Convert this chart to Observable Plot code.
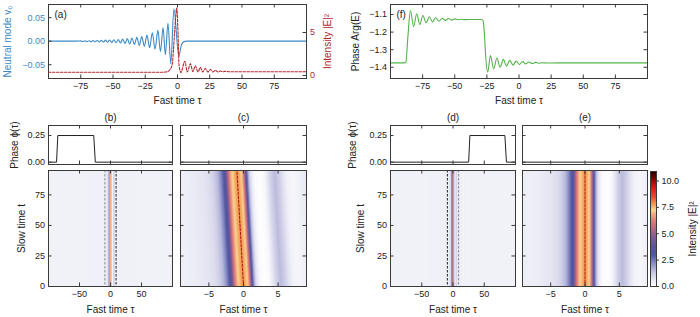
<!DOCTYPE html>
<html><head><meta charset="utf-8">
<script src="https://cdn.jsdelivr.net/npm/d3@7"></script>
<script src="https://cdn.jsdelivr.net/npm/@observablehq/plot@0.6"></script>
<style>
body{margin:0;background:#fff;}
#fig{position:relative;width:700px;height:317px;overflow:hidden;background:#fff;}
</style></head><body><div id="fig"></div>
<script>
// ---------- data ----------
// (a) neutral mode v0 (extrema) vs fast time
const neutralTau = [-100,-78,-75.0,-73.4,-71.8,-70.2,-68.6,-67.0,-65.4,-63.8,-62.2,-60.6,-59.0,-57.4,-55.8,-54.2,-52.6,-51.0,-49.3,-47.6,-45.9,-44.2,-42.5,-40.7,-38.9,-37.1,-35.3,-33.4,-31.5,-29.6,-27.7,-25.7,-23.7,-21.6,-19.5,-17.4,-15.2,-13.2,-11.2,-9.4,-7.4,-5.2,-2.8,1.0,3.0,5.0,7.0,100];
const neutralV = [0,0,0.0006,-0.0007,0.0008,-0.0009,0.001,-0.0011,0.0012,-0.0013,0.0014,-0.0016,0.0018,-0.002,0.0022,-0.0024,0.0026,-0.0028,0.003,-0.0034,0.0037,-0.004,0.0045,-0.005,0.0055,-0.006,0.0065,-0.007,0.008,-0.009,0.010,-0.011,0.013,-0.014,0.018,-0.017,0.023,-0.022,0.029,-0.029,0.038,-0.048,0.069,-0.032,-0.008,-0.001,0,0];
// (a) intensity |E|^2
const intensityTau = [-100,-12,-8,-5.5,-4,-2.3,-0.6,0.4,1.1,2.0,2.6,5.7,7.6,10.0,11.9,13.9,15.8,17.7,19.6,21.6,23.6,25.5,27.4,29.3,31.3,33.2,35.2,37.0,40,100];
const intensityA = [0.38,0.38,0.45,0.75,1.4,4.9,7.85,4.9,1.4,0.55,0.35,1.66,0.42,1.36,0.45,1.14,0.42,0.93,0.42,0.82,0.42,0.7,0.42,0.6,0.42,0.52,0.43,0.48,0.44,0.44];
// (f) phase Arg(E)
const argTau = [-100,-89,-88,-86.5,-84.5,-82,-79.6,-77.2,-74.8,-72.3,-69.8,-67.3,-64.8,-62.3,-59.8,-57.3,-54.8,-52.3,-49.8,-47.3,-44.8,-42,-38,-29,-28,-27,-26,-24.4,-22.2,-19.7,-17.2,-14.7,-12.2,-9.7,-7.2,-4.7,-2.2,0.3,2.8,5.3,7.8,10.3,12.8,15.3,18,22,30,100];
const argE = [-1.375,-1.375,-1.37,-1.23,-1.077,-1.168,-1.096,-1.157,-1.106,-1.147,-1.113,-1.142,-1.118,-1.138,-1.121,-1.134,-1.123,-1.132,-1.125,-1.130,-1.127,-1.129,-1.128,-1.128,-1.135,-1.2,-1.33,-1.428,-1.334,-1.409,-1.347,-1.400,-1.355,-1.393,-1.361,-1.388,-1.365,-1.384,-1.368,-1.381,-1.370,-1.379,-1.372,-1.377,-1.374,-1.376,-1.375,-1.375];
// (b),(d) phase phi(tau)
const phiTauB = [-100,-87,-85,-27,-24.5,100];
const phiB = [0,0,0.25,0.25,0,0];
const phiTauD = [-100,25,27,83,85.5,100];
const phiD = [0,0,0.25,0.25,0,0];
// intensity profile across fast time, relative to pulse centre
const profileTau = [-100,-40,-15,-9,-7,-5,-4,-3.5,-2.8,-2.1,-1.6,-1.25,-0.86,-0.4,0,0.35,0.72,1.05,1.25,1.45,1.65,2.0,2.5,3.2,3.8,4.2,4.8,5.4,6.0,6.6,7.2,8,9,10,12,14,16,18,20,22,24,26,28,30,32,34,36,38,40,42,45,50,100];
const profileI = [0.38,0.38,0.4,0.42,0.48,0.65,0.85,1.1,1.6,2.7,4.2,6.0,7.0,7.6,7.85,7.6,7.0,5.5,3.8,2.5,1.5,0.6,0.12,0.03,0.15,0.5,1.1,1.5,1.2,0.7,0.35,0.25,0.4,0.6,0.2,0.58,0.22,0.55,0.25,0.52,0.27,0.5,0.3,0.47,0.31,0.45,0.33,0.43,0.35,0.41,0.37,0.38,0.38];
// slow-time rows and pulse centre
const slowRowsStill = [0, 95];
const centresStill = [0, 0];
const slowRowsC = [0, 19, 38, 57, 76, 95];
const centresC = [0, -0.19, -0.38, -0.57, -0.76, -0.95];
const zoomEdges = [-9, 9];
// ticks
const xTicksWide = [-75,-50,-25,0,25,50,75];
const xTicksHeat = [-50,0,50];
const xTicksZoom = [-5,0,5];
const vTicks = [-0.05,0,0.05];
const iTicks = [0,5];
const argTicks = [-1.4,-1.3,-1.2,-1.1];
const phiTicks = [0,0.25];
const slowTicks = [0,25,50,75];
const slowTicksRight = [25,50,75];
const cbarTicks = [0,2.5,5,7.5,10];
// colour map stops
const cmapValues = [0,0.5,1.3,2.2,3.0,3.8,4.6,5.4,6.2,6.8,7.25,7.8,8.5,9.3,10.0,10.9];
const cmapColors = ["#ffffff","#ececf6","#c8c8e4","#8a8ec6","#4f56a0","#5a559c","#7c5a96","#b06684","#e07a78","#f2a582","#f8d592","#f39a50","#ec4a22","#e01c1c","#a00808","#200000"];

// ---------- tables ----------
const neutral = neutralTau.map((t,i)=>({tau:t, v:neutralV[i]}));
const intensity = intensityTau.map((t,i)=>({tau:t, I:intensityA[i]}));
const arg = argTau.map((t,i)=>({tau:t, a:argE[i]}));
const phaseB = phiTauB.map((t,i)=>({tau:t, p:phiB[i]}));
const phaseD = phiTauD.map((t,i)=>({tau:t, p:phiD[i]}));
const heatRows = (rows, centres, lim) => rows.flatMap((t,j)=>profileTau.map((d,i)=>({tau:d+centres[j], t, I:profileI[i]}))).filter(d=>Math.abs(d.tau)<=lim);
const heatStill = heatRows(slowRowsStill, centresStill, 100);
const heatStillZoom = heatRows(slowRowsStill, centresStill, 16);
const heatC = heatRows(slowRowsC, centresC, 16);
const pathStill = slowRowsStill.map((t,j)=>({t, tau:centresStill[j]}));
const pathC = slowRowsC.map((t,j)=>({t, tau:centresC[j]}));

// ---------- styling ----------
const FONT = '"Liberation Sans", Arial, Helvetica, sans-serif';
const BLUE = "#3a8ac6", RED = "#b2282e", GREEN = "#52b448", AX = "#3a3a3a", TXT = "#222";
const M = 50, TL = 3.5;
const fig = document.getElementById("fig");
const CMAP = {type:"linear", domain:cmapValues, range:cmapColors, interpolate:d3.interpolateRgb, clamp:true};
const wide = [-100,100], zoom = [-9.1,9.1], slowDom = [0,95];

function plotAt(frame, opts, marks) {
  const [x0,x1,y0,y1] = frame;
  const svg = Plot.plot({
    width: x1-x0+2*M, height: y1-y0+2*M,
    marginLeft:M, marginRight:M, marginTop:M, marginBottom:M,
    style:{fontFamily:FONT, fontSize:"9px", color:TXT, background:"transparent", overflow:"visible"},
    ...opts, marks
  });
  Object.assign(svg.style, {position:"absolute", left:(x0-M)+"px", top:(y0-M)+"px", maxWidth:"none"});
  fig.appendChild(svg);
}
function inTicks(frame, {top, bottom, left, right}) {
  const fw = frame[1]-frame[0], fh = frame[3]-frame[2], m = [];
  if (top) m.push(Plot.tickX(top, {x:d=>d, insetBottom:fh-TL, stroke:AX}));
  if (bottom) m.push(Plot.tickX(bottom, {x:d=>d, insetTop:fh-TL, stroke:AX}));
  if (left) m.push(Plot.tickY(left, {y:d=>d, insetRight:fw-TL, stroke:AX}));
  if (right) m.push(Plot.tickY(right, {y:d=>d, insetLeft:fw-TL, stroke:AX}));
  return m;
}
const xLab = (ticks, fmt) => Plot.axisX(ticks, {anchor:"bottom", tickSize:0, tickPadding:4, tickFormat:fmt, label:null});
const yLab = (ticks, fmt, color=TXT, anchor="left") => Plot.axisY(ticks, {anchor, tickSize:0, tickPadding:3.5, tickFormat:fmt, color, label:null});
const xTitle = (s, dy) => Plot.text([s], {frameAnchor:"bottom", dy, fontSize:10, fill:TXT, textAnchor:"middle", lineAnchor:"middle", text:d=>d});
const yTitle = (s, dx, color=TXT, anchor="left") => Plot.text([s], {frameAnchor:anchor, dx, rotate:-90, fontSize:10, fill:color, textAnchor:"middle", lineAnchor:"middle", text:d=>d});
const letterIn = (s) => Plot.text([s], {frameAnchor:"top-left", dx:6, dy:10, textAnchor:"start", lineAnchor:"middle", fontSize:10, fill:TXT, text:d=>d});
const letterAbove = (s) => Plot.text([s], {frameAnchor:"top", dy:-8, fontSize:10, fill:TXT, textAnchor:"middle", lineAnchor:"middle", text:d=>d});

// ---------- (a) ----------
const FA = [48,306,4,78];
plotAt(FA, {x:{domain:wide, axis:null}, y:{domain:[-0.0794,0.078], axis:null}}, [
  Plot.line(neutral, {x:"tau", y:"v", stroke:BLUE, strokeWidth:1.1, curve:"monotone-x"}),
  Plot.frame({stroke:AX}),
  ...inTicks(FA, {top:xTicksWide, bottom:xTicksWide, left:vTicks}),
  xLab(xTicksWide, "d"),
  yLab(vTicks, ".2f", BLUE),
  letterIn("(a)"),
  xTitle("Fast time τ", 22),
  yTitle("Neutral mode v₀", -41, BLUE)
]);
plotAt(FA, {x:{domain:wide, axis:null}, y:{domain:[-0.35,8.26], axis:null}}, [
  Plot.line(intensity, {x:"tau", y:"I", stroke:RED, strokeWidth:1.1, strokeDasharray:"2.5,1.5", curve:"monotone-x"}),
  ...inTicks(FA, {right:iTicks}),
  yLab(iTicks, "d", RED, "right"),
  yTitle("Intensity |E|²", 21, RED, "right")
]);

// ---------- (f) ----------
const FF = [390,647,4,78];
plotAt(FF, {x:{domain:wide, axis:null}, y:{domain:[-1.464,-1.043], axis:null}}, [
  Plot.line(arg, {x:"tau", y:"a", stroke:GREEN, strokeWidth:1.1, curve:"monotone-x"}),
  Plot.frame({stroke:AX}),
  ...inTicks(FF, {top:xTicksWide, bottom:xTicksWide, left:argTicks, right:argTicks}),
  xLab(xTicksWide, "d"),
  yLab(argTicks, ".1f"),
  letterIn("(f)"),
  xTitle("Fast time τ", 22),
  yTitle("Phase Arg(E)", -35)
]);

// ---------- lower panels ----------
function phasePanel(frame, xDom, data, xt, letter, labelled, dxTitle) {
  plotAt(frame, {x:{domain:xDom, axis:null}, y:{domain:[-0.022,0.344], axis:null}}, [
    Plot.line(data, {x:"tau", y:"p", stroke:"#222", strokeWidth:1, clip:true}),
    Plot.frame({stroke:AX}),
    ...inTicks(frame, {top:xt, bottom:xt, left:phiTicks, right:phiTicks}),
    ...(labelled ? [yLab(phiTicks, ".2f"), yTitle("Phase ϕ(τ)", dxTitle)] : []),
    letterAbove(letter)
  ]);
}
function heatPanel(frame, xDom, heat, path, xt, labelled, dxTitle, dashL, dashR, showPath) {
  plotAt(frame, {x:{domain:xDom, axis:null}, y:{domain:slowDom, axis:null}, color:CMAP}, [
    Plot.raster(heat, {x:"tau", y:"t", fill:"I", interpolate:"barycentric", x1:xDom[0], x2:xDom[1], y1:slowDom[0], y2:slowDom[1], pixelSize:1}),
    ...(dashL ? [Plot.ruleX([zoomEdges[0]], {x:d=>d, stroke:dashL, strokeWidth:1, strokeDasharray:"2.5,1.5"}),
                 Plot.ruleX([zoomEdges[1]], {x:d=>d, stroke:dashR, strokeWidth:1, strokeDasharray:"2.5,1.5"})] : []),
    ...(showPath ? [Plot.line(path, {x:"tau", y:"t", stroke:"#b01818", strokeWidth:1, strokeDasharray:"2.5,1.5"})] : []),
    Plot.frame({stroke:AX}),
    ...inTicks(frame, {top:xt, bottom:xt, left:slowTicksRight, right:slowTicksRight}),
    xLab(xt, "d"),
    xTitle("Fast time τ", 23),
    ...(labelled ? [yLab(slowTicks, "d"), yTitle("Slow time t", dxTitle)] : [])
  ]);
}
phasePanel([48,172,125,164], wide, phaseB, xTicksHeat, "(b)", true, -34);
phasePanel([180,306,125,164], zoom, phaseB, xTicksZoom, "(c)", false, 0);
phasePanel([390,515,125,164], wide, phaseD, xTicksHeat, "(d)", true, -38);
phasePanel([522,647,125,164], zoom, phaseD, xTicksZoom, "(e)", false, 0);

heatPanel([48,172,170,286], wide, heatStill, pathStill, xTicksHeat, true, -27, "#8a8a9a", "#222", false);
heatPanel([180,306,170,286], zoom, heatC, pathC, xTicksZoom, false, 0, null, null, true);
heatPanel([390,515,170,286], wide, heatStill, pathStill, xTicksHeat, true, -30, "#222", "#8a8a9a", false);
heatPanel([522,647,170,286], zoom, heatStillZoom, pathStill, xTicksZoom, false, 0, null, null, true);

// ---------- colour bar ----------
const FC = [650,656,171,286];
plotAt(FC, {x:{domain:[0,1], axis:null}, y:{domain:[0,10.9], axis:null}, color:CMAP}, [
  Plot.raster({fill:(x,y)=>y, x1:0, x2:1, y1:0, y2:10.9, pixelSize:1}),
  Plot.frame({stroke:AX}),
  Plot.axisY(cbarTicks, {anchor:"right", tickSize:2, tickPadding:3, tickFormat:".1f", label:null, stroke:AX}),
  yTitle("Intensity |E|²", 36, TXT, "right")
]);
</script></body></html>
